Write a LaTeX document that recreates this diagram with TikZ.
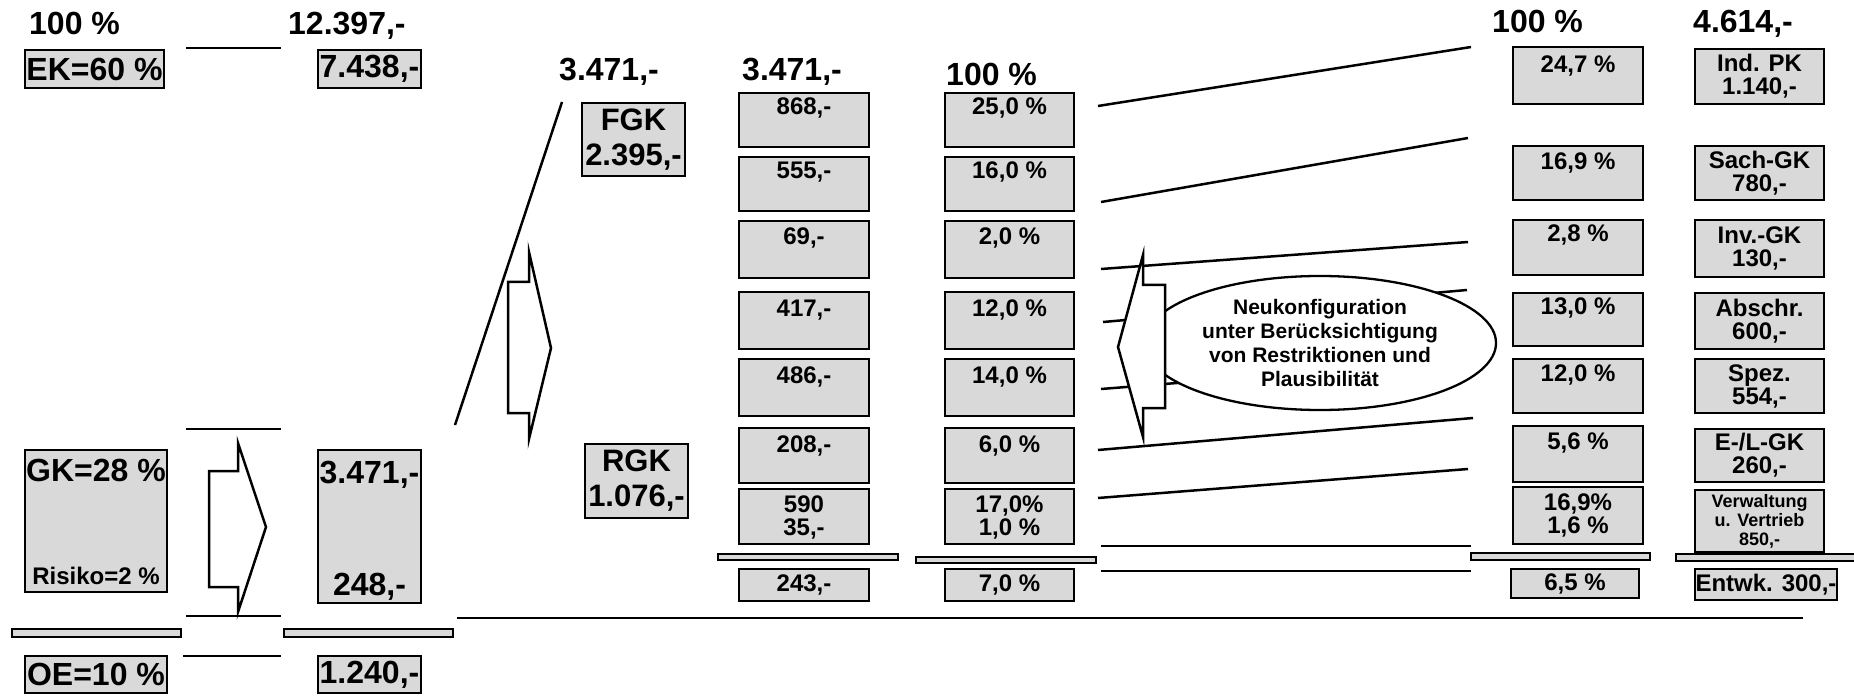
\documentclass[tikz,border=0pt]{standalone}
\usepackage{fontspec}
\setmainfont{Liberation Sans}
\usetikzlibrary{shapes.geometric}
\definecolor{boxgray}{RGB}{217,217,217}
\newcommand\pb[4]{\parbox[c][#2pt][s]{#1pt}{\centering\rule{0pt}{#3pt}#4\par\vfill}}
\newcommand\cb[3]{\parbox[c][#2pt][c]{#1pt}{\centering #3\par}}
\newcommand\fA{\fontsize{32}{36}\selectfont\bfseries}
\newcommand\fB{\fontsize{24}{23}\selectfont\bfseries}
\newcommand\fC{\fontsize{31}{35}\selectfont\bfseries}
\newcommand\fD{\fontsize{21}{24}\selectfont\bfseries}
\newcommand\fE{\fontsize{18}{19}\selectfont\bfseries}
\begin{document}
\begin{tikzpicture}[x=1pt,y=-1pt,
  gbox/.style={draw, fill=boxgray, line width=2.6pt, inner sep=0pt, outer sep=0pt, anchor=north west},
  hdr/.style={inner sep=0pt, anchor=base west, font=\fA},
  gbar/.style={draw, fill=boxgray, line width=2pt},
  flowline/.style={line width=2.5pt},
  arrshape/.style={draw, fill=white, line width=2.5pt, line join=miter}]
\useasboundingbox (0,0) rectangle (1854,700);

% headers
\node[hdr] (h1) at (29,35) {100 \%};
\node[hdr] (h2) at (288,35) {12.397,-};
\node[hdr] (h3) at (559,81) {3.471,-};
\node[hdr] (h4) at (742,81) {3.471,-};
\node[hdr] (h5) at (946,86) {100 \%};
\node[hdr] (h6) at (1492,33) {100 \%};
\node[hdr] (h7) at (1693,33) {4.614,-};

% left part
\draw[flowline] (186,48) -- (281,48);
\draw[flowline] (186,429) -- (281,429);
\draw[flowline] (186,616) -- (281,616);
\draw[flowline] (183,656) -- (281,656);

\node[gbox, font=\fA] (ek) at (25,50) {\cb{139}{38}{EK=60 \%}};
\node[gbox, font=\fA] (v7438) at (318,50) {\cb{103}{38}{7.438,-}};
\node[gbox, font=\fA] (gk) at (25,450) {\parbox[c][134pt][s]{142pt}{\centering\rule{0pt}{31pt}GK=28 \%\par\vfill{\fontsize{24}{24}\selectfont Risiko=2 \%}\rule[-8pt]{0pt}{8pt}\par}};
\node[gbox, font=\fA] (v3471) at (318,450) {\parbox[c][145pt][s]{103pt}{\centering\rule{0pt}{33pt}3.471,-\par\vfill 248,-\rule[-8pt]{0pt}{8pt}\par}};
\node[gbox, font=\fA] (oe) at (25,656) {\cb{142}{37}{OE=10 \%}};
\node[gbox, font=\fA] (v1240) at (318,656) {\cb{103}{37}{1.240,-}};

\draw[gbar] (12,629) rectangle (181,637);
\draw[gbar] (284,629) rectangle (453,637);

\draw[arrshape] (209,471) -- (238,471) -- (238,443) -- (266,527) -- (238,612) -- (238,587) -- (209,587) -- cycle;

% middle
\draw[flowline] (562,102) -- (455,425);
\draw[arrshape] (508,282) -- (529,282) -- (529,252) -- (551,348) -- (529,439) -- (529,413) -- (508,413) -- cycle;
\draw[flowline] (457,618) -- (1803,618);

\node[gbox, font=\fC] (fgk) at (582,103) {\cb{103}{73}{FGK\\2.395,-}};
\node[gbox, font=\fC] (rgk) at (585,444) {\cb{103}{74}{RGK\\1.076,-}};

% column 1
\node[gbox, font=\fB] (a1) at (739,93) {\pb{130}{54}{22}{868,-}};
\node[gbox, font=\fB] (a2) at (739,157) {\pb{130}{54}{22}{555,-}};
\node[gbox, font=\fB] (a3) at (739,221) {\pb{130}{57}{24}{69,-}};
\node[gbox, font=\fB] (a4) at (739,292) {\pb{130}{57}{24}{417,-}};
\node[gbox, font=\fB] (a5) at (739,359) {\pb{130}{57}{24}{486,-}};
\node[gbox, font=\fB] (a6) at (739,428) {\pb{130}{55}{24}{208,-}};
\node[gbox, font=\fB] (a7) at (739,489) {\pb{130}{55}{23}{590\\35,-}};
\draw[gbar] (718,554) rectangle (898,560);
\node[gbox, font=\fB] (a8) at (739,569) {\cb{130}{32}{243,-}};

% column 2
\node[gbox, font=\fB] (b1) at (945,93) {\pb{129}{54}{22}{25,0 \%}};
\node[gbox, font=\fB] (b2) at (945,157) {\pb{129}{54}{22}{16,0 \%}};
\node[gbox, font=\fB] (b3) at (945,221) {\pb{129}{57}{24}{2,0 \%}};
\node[gbox, font=\fB] (b4) at (945,292) {\pb{129}{57}{24}{12,0 \%}};
\node[gbox, font=\fB] (b5) at (945,359) {\pb{129}{57}{24}{14,0 \%}};
\node[gbox, font=\fB] (b6) at (945,428) {\pb{129}{55}{24}{6,0 \%}};
\node[gbox, font=\fB] (b7) at (945,489) {\pb{129}{55}{23}{17,0\%\\1,0 \%}};
\draw[gbar] (916,557) rectangle (1096,563);
\node[gbox, font=\fB] (b8) at (945,569) {\cb{129}{32}{7,0 \%}};

% flow lines
\draw[flowline] (1098,106) -- (1471,47);
\draw[flowline] (1101,202) -- (1468,138);
\draw[flowline] (1101,269) -- (1468,242);
\draw[flowline] (1103,322) -- (1467,290);
\draw[flowline] (1101,389) -- (1468,360);
\draw[flowline] (1098,450) -- (1473,418);
\draw[flowline] (1098,498) -- (1468,469);
\draw[flowline] (1101,546) -- (1471,546);
\draw[flowline] (1101,571) -- (1471,571);

\node[ellipse, draw, fill=white, line width=2.3pt, minimum width=352pt, minimum height=134pt, inner sep=0pt, align=center, font=\fD] (ell) at (1320,343) {Neukonfiguration\\unter Berücksichtigung\\von Restriktionen und\\Plausibilität};
\draw[arrshape] (1165,285) -- (1143,285) -- (1143,255) -- (1118,347) -- (1143,437) -- (1143,408) -- (1165,408) -- cycle;

% column 3
\node[gbox, font=\fB] (c1) at (1513,47) {\pb{130}{57}{26}{24,7 \%}};
\node[gbox, font=\fB] (c2) at (1513,146) {\pb{130}{54}{24}{16,9 \%}};
\node[gbox, font=\fB] (c3) at (1513,220) {\pb{130}{55}{22}{2,8 \%}};
\node[gbox, font=\fB] (c4) at (1513,293) {\pb{130}{53}{22}{13,0 \%}};
\node[gbox, font=\fB] (c5) at (1513,359) {\pb{130}{54}{22}{12,0 \%}};
\node[gbox, font=\fB] (c6) at (1513,426) {\pb{130}{56}{23}{5,6 \%}};
\node[gbox, font=\fB] (c7) at (1513,487) {\pb{130}{57}{23}{16,9\%\\1,6 \%}};
\draw[gbar] (1471,553) rectangle (1650,560);
\node[gbox, font=\fB] (c8) at (1511,569) {\cb{128}{29}{6,5 \%}};

% column 4
\node[gbox, font=\fB] (d1) at (1695,49) {\cb{129}{55}{Ind. PK\\1.140,-}};
\node[gbox, font=\fB] (d2) at (1695,146) {\cb{129}{54}{Sach-GK\\780,-}};
\node[gbox, font=\fB] (d3) at (1695,220) {\cb{129}{57}{Inv.-GK\\130,-}};
\node[gbox, font=\fB] (d4) at (1695,293) {\cb{129}{56}{Abschr.\\600,-}};
\node[gbox, font=\fB] (d5) at (1695,359) {\cb{129}{54}{Spez.\\554,-}};
\node[gbox, font=\fB] (d6) at (1695,429) {\cb{129}{53}{E-/L-GK\\260,-}};
\node[gbox, font=\fE] (d7) at (1695,490) {\cb{129}{62}{Verwaltung\\u. Vertrieb\\850,-}};
\draw[gbar] (1676,554) rectangle (1860,561);
\node[gbox, font=\fB] (d8) at (1695,569) {\cb{142}{31}{Entwk. 300,-}};
\end{tikzpicture}
\end{document}
